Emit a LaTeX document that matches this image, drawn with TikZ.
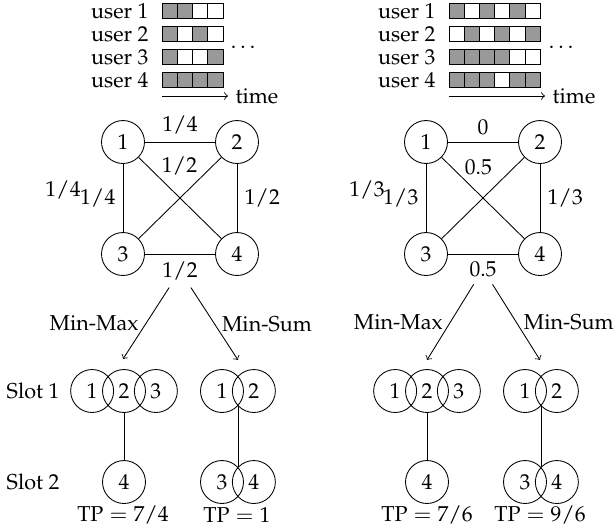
\documentclass[tikz,border=0pt]{standalone}
\usepackage[T1]{fontenc}
\usepackage{mathpazo}
\usetikzlibrary{calc,positioning}

\begin{document}
\begin{tikzpicture}[
  x=0.16287mm, y=-0.16287mm,
  user/.style = {circle, draw, minimum size=7mm, inner sep=0pt},
  slotc/.style = {circle, draw, minimum size=7mm, inner sep=0pt},
  cellg/.style = {draw, fill=black!40},
  cellw/.style = {draw, fill=white},
  arr/.style = {->}
]
\useasboundingbox (0,0) rectangle (614,528);

% access patterns, left case
\foreach \r/\pat in {1/{g,g,w,w}, 2/{g,w,g,w}, 3/{g,w,w,g}, 4/{g,g,g,g}} {
  \node[anchor=east] (lu\r) at (156,{23*\r-12}) {user \r};
  \foreach \c [count=\i] in \pat
    \draw[cell\c] ({162+15.25*(\i-1)},{23*\r-19.25}) rectangle ++(15.25,14.5);
}
\node (ldots) at (243,47) {$\dots$};
\coordinate (lt0) at (162,96);
\draw[arr] (lt0) -- ++(66,0) node[right] (ltime) {time};

% access patterns, right case
\foreach \r/\pat in {1/{g,w,g,w,g,w}, 2/{w,g,w,g,w,g}, 3/{g,g,g,g,w,w}, 4/{g,g,g,w,g,g}} {
  \node[anchor=east] (ru\r) at (443,{23*\r-12}) {user \r};
  \foreach \c [count=\i] in \pat
    \draw[cell\c] ({449+15.2*(\i-1)},{23*\r-19.25}) rectangle ++(15.2,14.5);
}
\node (rdots) at (561,47) {$\dots$};
\coordinate (rt0) at (449,96);
\draw[arr] (rt0) -- ++(96,0) node[right] (rtime) {time};

% conflict graph, left
\node[user] (a1) at (123,142) {1};
\node[user] (a2) at (237,142) {2};
\node[user] (a3) at (123,254) {3};
\node[user] (a4) at (237,254) {4};
\draw (a1) -- node[above] {$1/4$} (a2);
\draw (a1) -- node[pos=0.25, anchor=south west, inner sep=1pt] {$1/2$} (a4);
\draw (a2) -- (a3);
\draw (a1) -- node[left] {$1/4$} (a3);
\draw (a2) -- node[right] {$1/2$} (a4);
\draw (a3) -- node[below] (aw34) {$1/2$} (a4);
\node (aw23) at (63,190) {$1/4$};

% conflict graph, right
\node[user] (b1) at (426,142) {1};
\node[user] (b2) at (540,142) {2};
\node[user] (b3) at (426,254) {3};
\node[user] (b4) at (540,254) {4};
\draw (b1) -- node[above] {$0$} (b2);
\draw (b1) -- node[pos=0.25, anchor=south west, inner sep=1pt] {$0.5$} (b4);
\draw (b2) -- (b3);
\draw (b1) -- node[left] {$1/3$} (b3);
\draw (b2) -- node[right] {$1/3$} (b4);
\draw (b3) -- node[below] (bw34) {$0.5$} (b4);
\node (bw23) at (367,190) {$1/3$};

% slot assignments, left
\node[slotc] (p2) at (124,391) {2};
\node[slotc, left=-1.95mm of p2] (p1) {1};
\node[slotc, right=-1.95mm of p2] (p3) {3};
\node[slotc] (p4) at (124,482) {4};
\node[slotc] (q1) at (222,391) {1};
\node[slotc, right=-1.95mm of q1] (q2) {2};
\node[slotc] (q3) at (222,482) {3};
\node[slotc, right=-1.95mm of q3] (q4) {4};
\draw (p2) -- (p4);
\draw ($(q1)!.5!(q2)+(0,15)$) -- ($(q3)!.5!(q4)+(0,-15)$);
\node (slot1) at (33,391) {Slot 1};
\node (slot2) at (33,482) {Slot 2};
\node (tpp) at (123,515) {$\mathrm{TP}=7/4$};
\node (tpq) at (237,515) {$\mathrm{TP}=1$};

% slot assignments, right
\node[slotc] (r2) at (427,391) {2};
\node[slotc, left=-1.95mm of r2] (r1) {1};
\node[slotc, right=-1.95mm of r2] (r3) {3};
\node[slotc] (r4) at (427,482) {4};
\node[slotc] (s1) at (525,391) {1};
\node[slotc, right=-1.95mm of s1] (s2) {2};
\node[slotc] (s3) at (525,482) {3};
\node[slotc, right=-1.95mm of s3] (s4) {4};
\draw (r2) -- (r4);
\draw ($(s1)!.5!(s2)+(0,15)$) -- ($(s3)!.5!(s4)+(0,-15)$);
\node (tpr) at (427,515) {$\mathrm{TP}=7/6$};
\node (tps) at (540,515) {$\mathrm{TP}=9/6$};

% scheduling rules
\coordinate (amax) at (123,359);
\coordinate (asum) at (238,360);
\coordinate (bmax) at (427,360);
\coordinate (bsum) at (540,360);
\draw[arr] (aw34) -- node[left] {Min-Max} (amax);
\draw[arr] (aw34) -- node[right] {Min-Sum} (asum);
\draw[arr] (bw34) -- node[left] {Min-Max} (bmax);
\draw[arr] (bw34) -- node[right] {Min-Sum} (bsum);
\end{tikzpicture}
\end{document}
